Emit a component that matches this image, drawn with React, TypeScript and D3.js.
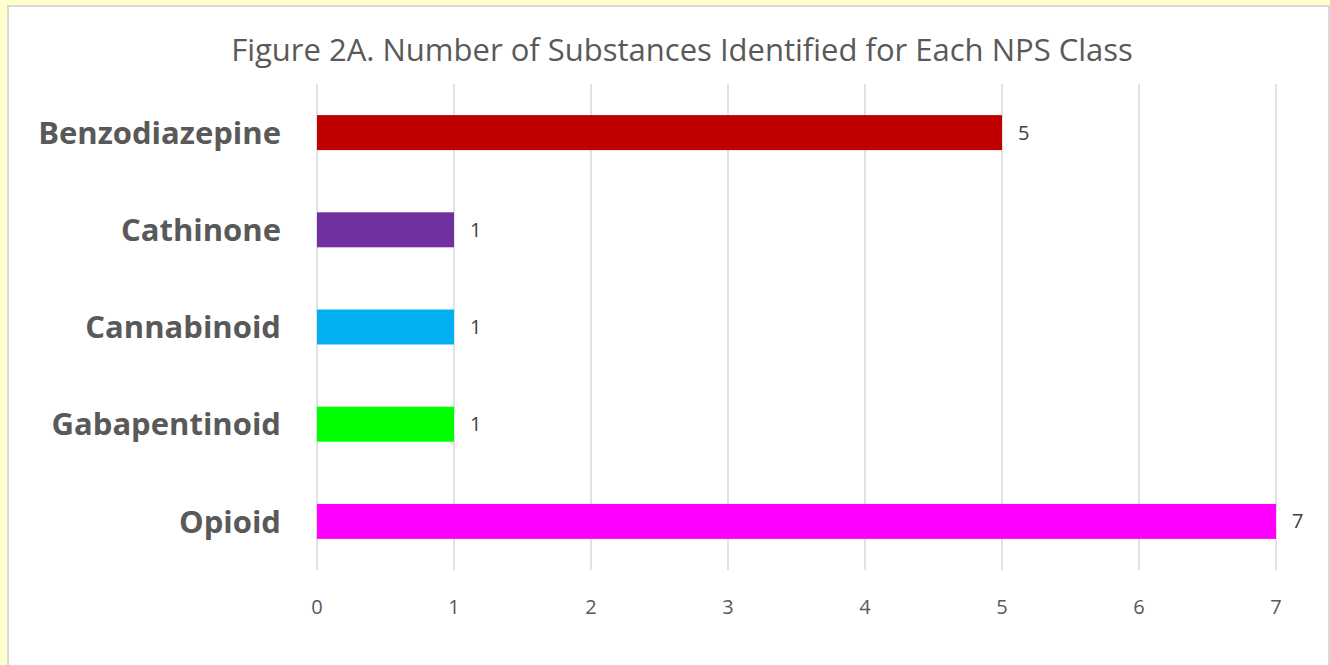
import React from 'react';
import * as d3 from 'd3';

const classes = ['Benzodiazepine', 'Cathinone', 'Cannabinoid', 'Gabapentinoid', 'Opioid'];
const counts = [5, 1, 1, 1, 7];
const barColors = ['#C00000', '#7030A0', '#00B0F0', '#00FF00', '#FF00FF'];
const xTicks = [0, 1, 2, 3, 4, 5, 6, 7];

const W = 1330;
const H = 665;
const FONT = '"Open Sans", "Liberation Sans", sans-serif';

export default function App() {
  const svgRef = React.useRef<SVGSVGElement>(null);

  React.useEffect(() => {
    document.body.style.margin = '0';
    document.body.style.background = '#FFFFCC';

    const svg = d3.select(svgRef.current);
    svg.selectAll('*').remove();

    // yellow page, white chart area with a gray edge
    svg.append('rect').attr('x', 0).attr('y', 0).attr('width', W).attr('height', H).attr('fill', '#FFFFCC');
    svg.append('rect')
      .attr('x', 8).attr('y', 6)
      .attr('width', W - 9).attr('height', H)
      .attr('fill', '#ffffff')
      .attr('stroke', '#D9D9D9')
      .attr('stroke-width', 2);

    const x = d3.scaleLinear().domain([0, 7]).range([317, 1276]);
    const y = d3.scaleBand().domain(classes).range([84, 570]).paddingInner(0.64).paddingOuter(0.32);

    svg.append('text')
      .attr('x', 682).attr('y', 61)
      .attr('text-anchor', 'middle')
      .attr('font-family', FONT)
      .attr('font-size', 31)
      .attr('fill', '#595959')
      .text('Figure 2A. Number of Substances Identified for Each NPS Class');

    svg.append('g')
      .selectAll('line')
      .data(xTicks)
      .join('line')
      .attr('x1', d => x(d)).attr('x2', d => x(d))
      .attr('y1', 84).attr('y2', 570)
      .attr('stroke', '#D9D9D9')
      .attr('stroke-width', 1.5);

    svg.append('g')
      .selectAll('text')
      .data(xTicks)
      .join('text')
      .attr('x', d => x(d)).attr('y', 614)
      .attr('text-anchor', 'middle')
      .attr('font-family', FONT)
      .attr('font-size', 20)
      .attr('fill', '#595959')
      .text(d => d);

    const rows = classes.map((c, i) => ({ c, v: counts[i], color: barColors[i] }));

    svg.append('g')
      .selectAll('rect')
      .data(rows)
      .join('rect')
      .attr('x', x(0))
      .attr('y', d => y(d.c)!)
      .attr('width', d => x(d.v) - x(0))
      .attr('height', y.bandwidth())
      .attr('fill', d => d.color);

    svg.append('g')
      .selectAll('text')
      .data(rows)
      .join('text')
      .attr('x', d => x(d.v) + 16)
      .attr('y', d => y(d.c)! + y.bandwidth() / 2)
      .attr('dy', '0.35em')
      .attr('font-family', FONT)
      .attr('font-size', 20)
      .attr('fill', '#404040')
      .text(d => d.v);

    svg.append('g')
      .selectAll('text')
      .data(rows)
      .join('text')
      .attr('x', 281)
      .attr('y', d => y(d.c)! + y.bandwidth() / 2)
      .attr('dy', '0.36em')
      .attr('text-anchor', 'end')
      .attr('font-family', FONT)
      .attr('font-size', 31)
      .attr('font-weight', 'bold')
      .attr('fill', '#595959')
      .text(d => d.c);
  }, []);

  return (
    <div style={{ background: '#FFFFCC' }}>
      <svg ref={svgRef} width={W} height={H} style={{ display: 'block' }} />
    </div>
  );
}
